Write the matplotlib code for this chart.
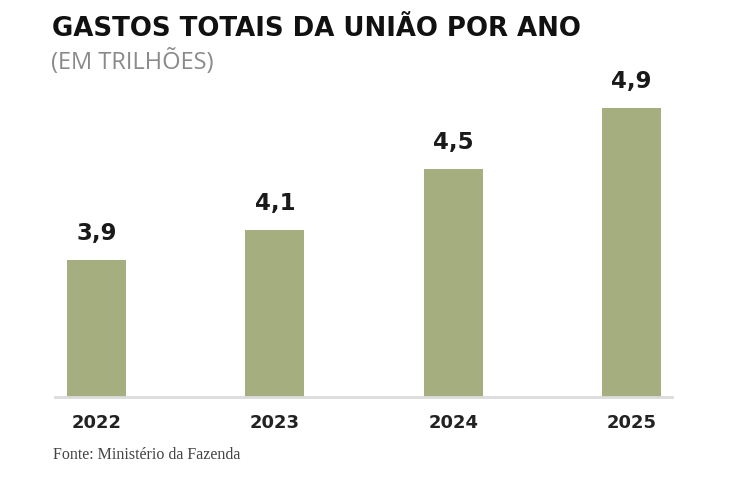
import matplotlib
matplotlib.use("Agg")
import matplotlib.pyplot as plt

# data
anos = ["2022", "2023", "2024", "2025"]
gastos = [3.9, 4.1, 4.5, 4.9]
rotulos = ["3,9", "4,1", "4,5", "4,9"]

bar_color = "#a5ae7e"

fig = plt.figure(figsize=(7.5, 5), dpi=100)
ax = fig.add_axes([0.0733, 0.206, 0.8227, 0.674])

base = 3.0
x = list(range(len(anos)))
ax.bar(x, [g - base for g in gastos], bottom=base, width=0.33, color=bar_color, zorder=2)

for xi, g, lab in zip(x, gastos, rotulos):
    ax.annotate(lab, (xi, g), xytext=(0, 11), textcoords="offset points",
                ha="center", va="bottom", fontsize=16.5, fontweight="bold", color="#1a1a1a")

ax.set_xlim(-0.233, 3.227)
ax.set_ylim(base, base + 337 / 152)

for s in ["top", "right", "left"]:
    ax.spines[s].set_visible(False)
ax.spines["bottom"].set_color("#dcdcdc")
ax.spines["bottom"].set_linewidth(2)
ax.set_yticks([])
ax.set_xticks(x)
ax.set_xticklabels(anos, fontsize=13, fontweight="bold", color="#222222")
ax.tick_params(axis="x", length=0, pad=12)

fig.text(0.069, 0.942, "GASTOS TOTAIS DA UNIÃO POR ANO", fontsize=18.7, fontweight="heavy",
         color="#111111", va="center", ha="left")
fig.text(0.068, 0.876, "(EM TRILHÕES)", fontsize=17, family=["Open Sans", "DejaVu Sans"],
         color="#8a8a8a", va="center", ha="left")
fig.text(0.071, 0.09, "Fonte: Ministério da Fazenda", fontsize=11.5, family=["Liberation Serif", "DejaVu Serif"],
         color="#444444", va="center", ha="left")

fig.savefig("out.png", dpi=100)
